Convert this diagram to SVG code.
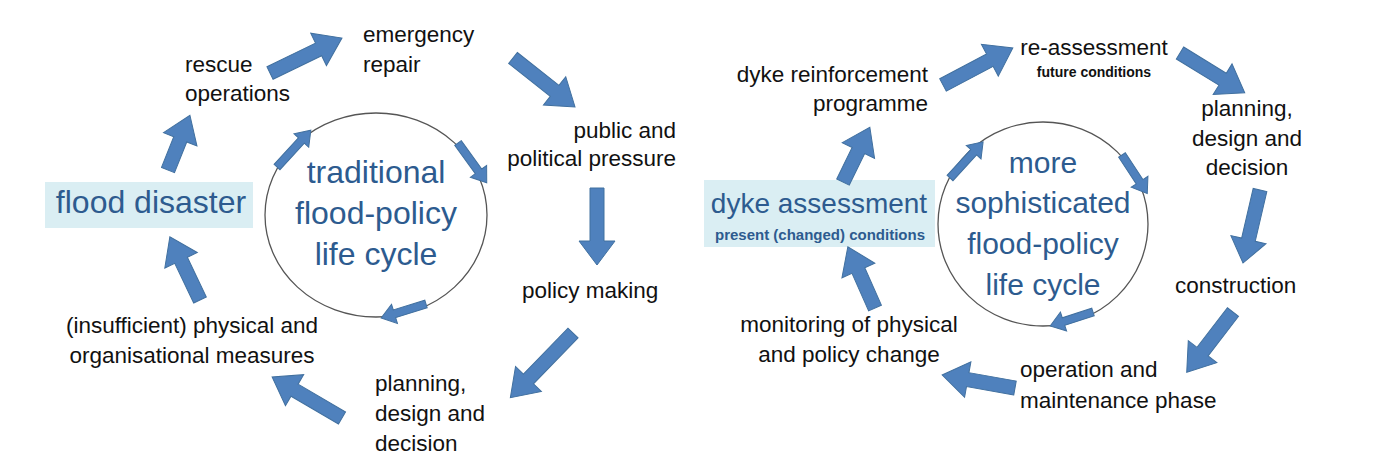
<svg xmlns="http://www.w3.org/2000/svg" width="1392" height="464" viewBox="0 0 1392 464">
<style>
.t{font-family:"Liberation Sans",Arial,sans-serif;font-size:22.5px;fill:#111}
.b{font-family:"Liberation Sans",Arial,sans-serif;fill:#2d5b8f}
.sm{font-family:"Liberation Sans",Arial,sans-serif;font-weight:bold;fill:#111}
.arr{fill:#4f81bd;stroke:#41709f;stroke-width:1}
.circ{fill:none;stroke:#555;stroke-width:1.3}
.box{fill:#daeef3}
</style>
<rect width="1392" height="464" fill="#fff"/>

<!-- LEFT DIAGRAM -->
<g id="flood-disaster">
<rect class="box" x="45" y="182" width="208" height="46"/>
<text class="b" x="151" y="213" font-size="32" text-anchor="middle">flood disaster</text>
</g>
<g id="rescue-operations">
<text class="t" x="185" y="72">rescue</text>
<text class="t" x="185" y="101">operations</text>
</g>
<g id="emergency-repair">
<text class="t" x="363" y="42">emergency</text>
<text class="t" x="363" y="72">repair</text>
</g>
<g id="public-pressure">
<text class="t" x="676" y="138" text-anchor="end">public and</text>
<text class="t" x="676" y="166" text-anchor="end">political pressure</text>
</g>
<g id="policy-making">
<text class="t" x="522" y="298">policy making</text>
</g>
<g id="planning-left">
<text class="t" x="375" y="391">planning,</text>
<text class="t" x="375" y="421">design and</text>
<text class="t" x="375" y="451">decision</text>
</g>
<g id="measures">
<text class="t" x="192" y="333" text-anchor="middle">(insufficient) physical and</text>
<text class="t" x="192" y="363" text-anchor="middle">organisational measures</text>
</g>
<g id="traditional-cycle">
<ellipse class="circ" cx="376" cy="215" rx="111" ry="102"/>
<text class="b" x="376" y="183" font-size="32" text-anchor="middle">traditional</text>
<text class="b" x="376" y="224" font-size="32" text-anchor="middle">flood-policy</text>
<text class="b" x="376" y="265" font-size="32" text-anchor="middle">life cycle</text>
</g>

<!-- RIGHT DIAGRAM -->
<g id="dyke-assessment">
<rect class="box" x="704" y="180" width="231" height="67"/>
<text class="b" x="819" y="213" font-size="28" text-anchor="middle">dyke assessment</text>
<text class="b" x="820" y="240" font-size="15" font-weight="bold" text-anchor="middle">present (changed) conditions</text>
</g>
<g id="dyke-reinforcement">
<text class="t" x="928" y="82" text-anchor="end">dyke reinforcement</text>
<text class="t" x="928" y="111" text-anchor="end">programme</text>
</g>
<g id="re-assessment">
<text class="t" x="1094" y="55" text-anchor="middle">re-assessment</text>
<text class="sm" x="1094" y="77" font-size="14" text-anchor="middle">future conditions</text>
</g>
<g id="planning-right">
<text class="t" x="1247" y="116" text-anchor="middle">planning,</text>
<text class="t" x="1247" y="146" text-anchor="middle">design and</text>
<text class="t" x="1247" y="175" text-anchor="middle">decision</text>
</g>
<g id="construction">
<text class="t" x="1175" y="293">construction</text>
</g>
<g id="operation">
<text class="t" x="1020" y="377">operation and</text>
<text class="t" x="1020" y="408">maintenance phase</text>
</g>
<g id="monitoring">
<text class="t" x="849" y="332" text-anchor="middle">monitoring of physical</text>
<text class="t" x="849" y="362" text-anchor="middle">and policy change</text>
</g>
<g id="sophisticated-cycle">
<ellipse class="circ" cx="1043" cy="224" rx="105" ry="102"/>
<text class="b" x="1043" y="173" font-size="30" text-anchor="middle">more</text>
<text class="b" x="1043" y="213" font-size="30" text-anchor="middle">sophisticated</text>
<text class="b" x="1043" y="254" font-size="30" text-anchor="middle">flood-policy</text>
<text class="b" x="1043" y="295" font-size="30" text-anchor="middle">life cycle</text>
</g>

<!-- CONNECTORS -->
<g id="connectors">
<!-- left big -->
<polygon class="arr" transform="translate(168,170) rotate(-68.2)" points="0,-7 33,-7 33,-18 59,0 33,18 33,7 0,7"/>
<polygon class="arr" transform="translate(270,73) rotate(-25.9)" points="0,-7 54,-7 54,-18 80,0 54,18 54,7 0,7"/>
<polygon class="arr" transform="translate(513,58) rotate(38.3)" points="0,-7 53,-7 53,-18 79,0 53,18 53,7 0,7"/>
<polygon class="arr" transform="translate(597,188) rotate(90)" points="0,-7 53,-7 53,-18 77,0 53,18 53,7 0,7"/>
<polygon class="arr" transform="translate(573,333) rotate(134.1)" points="0,-7 64,-7 64,-18 90,0 64,18 64,7 0,7"/>
<polygon class="arr" transform="translate(342,418) rotate(210.4)" points="0,-7 55,-7 55,-18 81,0 55,18 55,7 0,7"/>
<polygon class="arr" transform="translate(200,300) rotate(-115.5)" points="0,-7 44,-7 44,-18 70,0 44,18 44,7 0,7"/>
<!-- left small -->
<polygon class="arr" transform="translate(277,167) rotate(-47.4)" points="0,-4 36,-4 36,-10 50,0 36,10 36,4 0,4"/>
<polygon class="arr" transform="translate(458,143) rotate(54.1)" points="0,-4 35,-4 35,-10 49,0 35,10 35,4 0,4"/>
<polygon class="arr" transform="translate(426,304) rotate(162.7)" points="0,-4 33,-4 33,-10 47,0 33,10 33,4 0,4"/>
<!-- right big -->
<polygon class="arr" transform="translate(843,182) rotate(-63.9)" points="0,-7 35,-7 35,-18 61,0 35,18 35,7 0,7"/>
<polygon class="arr" transform="translate(943,85) rotate(-27.9)" points="0,-7 53,-7 53,-18 79,0 53,18 53,7 0,7"/>
<polygon class="arr" transform="translate(1180,53) rotate(31.6)" points="0,-7 50,-7 50,-18 76,0 50,18 50,7 0,7"/>
<polygon class="arr" transform="translate(1260,190) rotate(103.1)" points="0,-7 51,-7 51,-18 75,0 51,18 51,7 0,7"/>
<polygon class="arr" transform="translate(1233,312) rotate(127.5)" points="0,-7 50,-7 50,-18 76,0 50,18 50,7 0,7"/>
<polygon class="arr" transform="translate(1015,388) rotate(190.1)" points="0,-7 48,-7 48,-18 74,0 48,18 48,7 0,7"/>
<polygon class="arr" transform="translate(875,308) rotate(-113.9)" points="0,-7 41,-7 41,-18 67,0 41,18 41,7 0,7"/>
<!-- right small -->
<polygon class="arr" transform="translate(950,178) rotate(-47.5)" points="0,-4 35,-4 35,-10 49,0 35,10 35,4 0,4"/>
<polygon class="arr" transform="translate(1122,155) rotate(56.7)" points="0,-4 32,-4 32,-10 46,0 32,10 32,4 0,4"/>
<polygon class="arr" transform="translate(1093,312) rotate(162)" points="0,-4 31,-4 31,-10 45,0 31,10 31,4 0,4"/>
</g>
</svg>
